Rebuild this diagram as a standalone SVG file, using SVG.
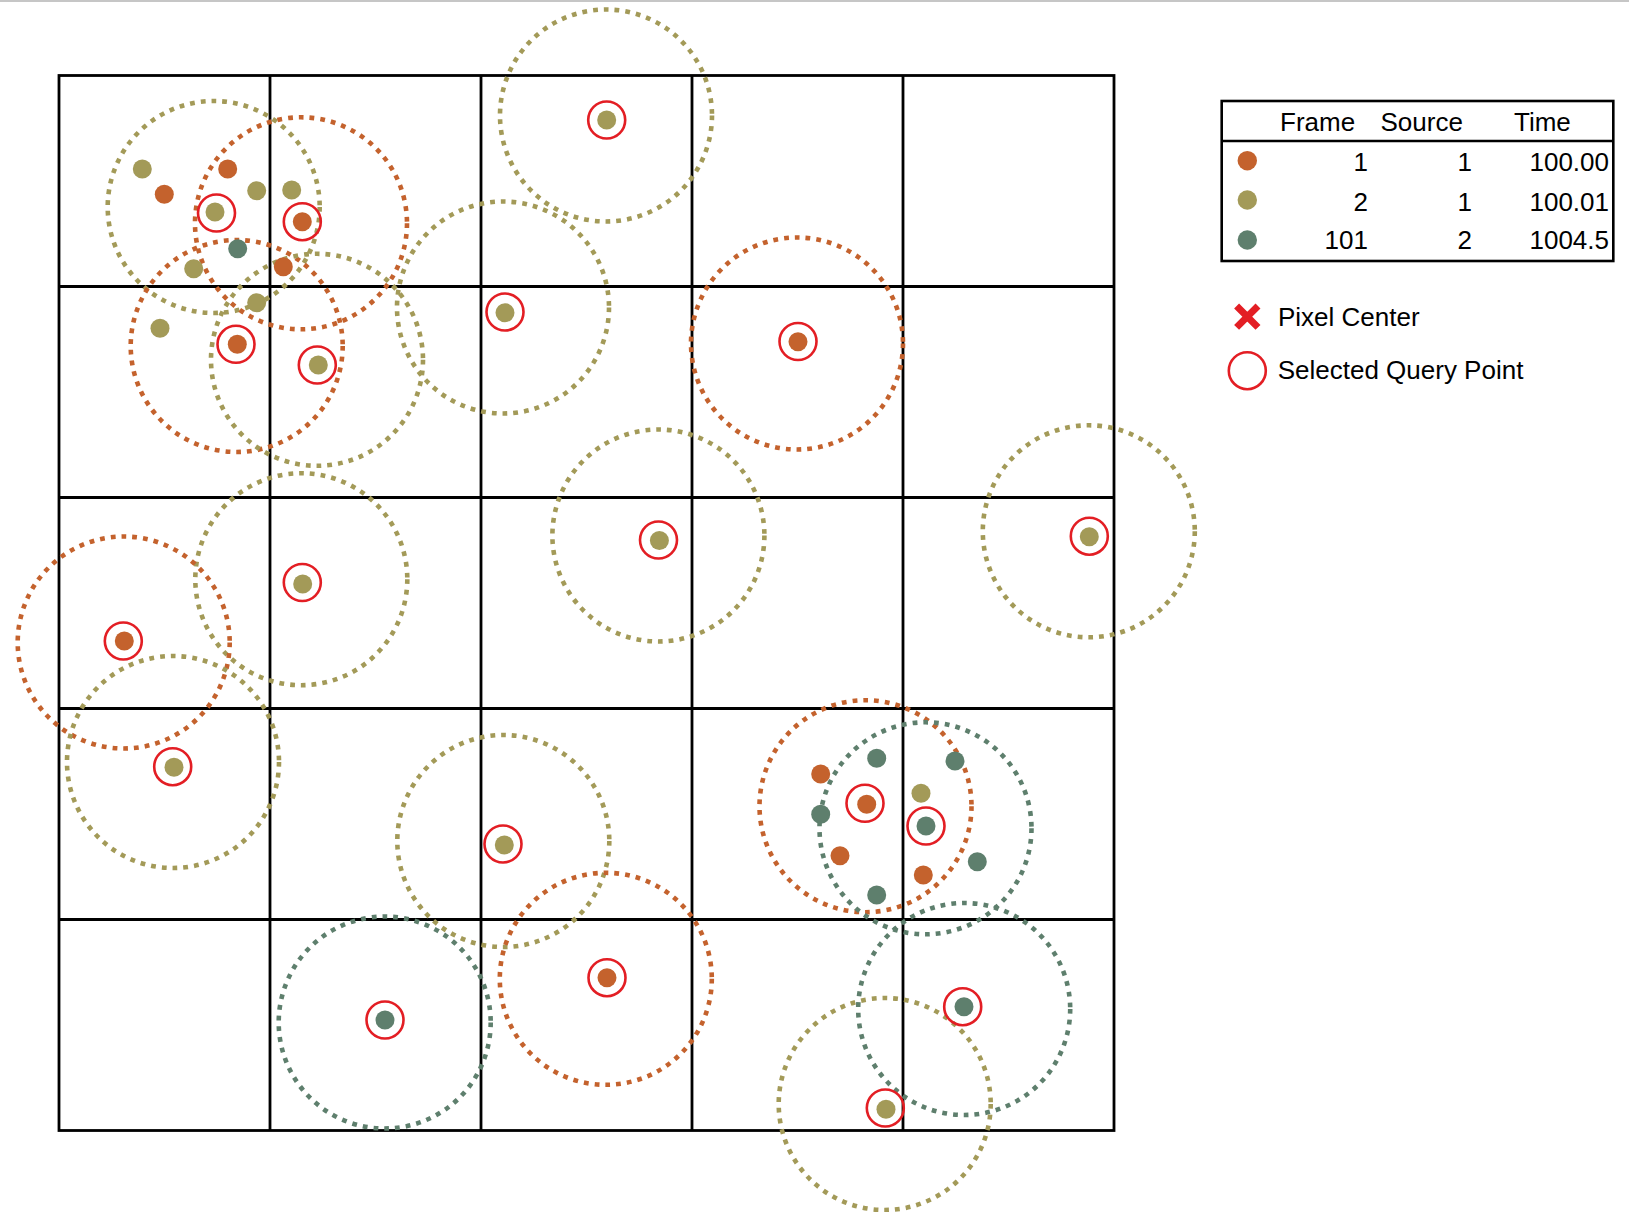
<svg xmlns="http://www.w3.org/2000/svg" width="1629" height="1212" viewBox="0 0 1629 1212">
<style>
text{font-family:"Liberation Sans",Arial,sans-serif;font-size:26px;fill:#000}
.grid{fill:none;stroke:#000;stroke-width:2.8}
.dc{fill:none;stroke-width:4.6;stroke-dasharray:4.8 6}
.ring{fill:none;stroke:#E31E24;stroke-width:2.6}
.o{fill:#C4622D}.g{fill:#A39A58}.t{fill:#5E7F6D}
.os{stroke:#C4622D}.gs{stroke:#A39A58}.ts{stroke:#5E7F6D}
.end{text-anchor:end}
</style>
<rect width="1629" height="1212" fill="#fff"/>
<line x1="0" y1="1" x2="1629" y2="1" stroke="#c6c6c6" stroke-width="2"/>
<g id="grid">
<rect class="grid" x="59" y="75.5" width="1055" height="1055"/>
<path class="grid" d="M270 75.5V1130.5M481 75.5V1130.5M692 75.5V1130.5M903 75.5V1130.5M59 286.5H1114M59 497.5H1114M59 708.5H1114M59 919.5H1114"/>
</g>
<g id="connectors">
<circle class="dc gs" cx="213.7" cy="207" r="106"/>
<circle class="dc os" cx="301" cy="223.3" r="106"/>
<circle class="dc os" cx="236.7" cy="346" r="106"/>
<circle class="dc gs" cx="317" cy="359.8" r="106"/>
<circle class="dc gs" cx="606" cy="115.5" r="106"/>
<circle class="dc gs" cx="503" cy="307.5" r="106"/>
<circle class="dc os" cx="797" cy="343.5" r="106"/>
<circle class="dc gs" cx="658.4" cy="535.5" r="106"/>
<circle class="dc gs" cx="1088.8" cy="531.3" r="106"/>
<circle class="dc gs" cx="301.3" cy="579.2" r="106"/>
<circle class="dc os" cx="123.7" cy="642.5" r="106"/>
<circle class="dc gs" cx="173" cy="762" r="106"/>
<circle class="dc gs" cx="503.3" cy="841" r="106"/>
<circle class="dc os" cx="605.8" cy="978.8" r="106"/>
<circle class="dc ts" cx="384.7" cy="1022.5" r="106"/>
<circle class="dc ts" cx="964.2" cy="1009" r="106"/>
<circle class="dc gs" cx="884.7" cy="1104" r="106"/>
<circle class="dc os" cx="865.5" cy="806.2" r="106"/>
<circle class="dc ts" cx="925.5" cy="828.3" r="106"/>
</g>
<g id="points">
<g id="p1"><circle class="g" cx="142.3" cy="169" r="9.5"/></g>
<g id="p2"><circle class="o" cx="227.7" cy="169" r="9.5"/></g>
<g id="p3"><circle class="o" cx="164.3" cy="194.3" r="9.5"/></g>
<g id="p4"><circle class="g" cx="256.7" cy="190.7" r="9.5"/></g>
<g id="p5"><circle class="g" cx="291.7" cy="190" r="9.5"/></g>
<g id="p6"><circle class="g" cx="215" cy="212" r="9.5"/><circle class="ring" cx="216.5" cy="213" r="18.5"/></g>
<g id="p7"><circle class="o" cx="302.3" cy="221.7" r="9.5"/><circle class="ring" cx="302.3" cy="221.7" r="18.5"/></g>
<g id="p8"><circle class="t" cx="237.7" cy="248.7" r="9.5"/></g>
<g id="p9"><circle class="g" cx="193.7" cy="268.7" r="9.5"/></g>
<g id="p10"><circle class="o" cx="283.3" cy="266.7" r="9.5"/></g>
<g id="p11"><circle class="g" cx="256.7" cy="302.7" r="9.5"/></g>
<g id="p12"><circle class="g" cx="160" cy="328.3" r="9.5"/></g>
<g id="p13"><circle class="o" cx="237.3" cy="344.3" r="9.5"/><circle class="ring" cx="236" cy="344.3" r="18.5"/></g>
<g id="p14"><circle class="g" cx="318.3" cy="365" r="9.5"/><circle class="ring" cx="317.3" cy="365" r="18.5"/></g>
<g id="p15"><circle class="g" cx="606.7" cy="120" r="9.5"/><circle class="ring" cx="606.7" cy="120" r="18.5"/></g>
<g id="p16"><circle class="g" cx="505" cy="312.7" r="9.5"/><circle class="ring" cx="505" cy="312" r="18.5"/></g>
<g id="p17"><circle class="o" cx="798" cy="341.7" r="9.5"/><circle class="ring" cx="798" cy="341.5" r="18.5"/></g>
<g id="p18"><circle class="g" cx="659.4" cy="540.5" r="9.5"/><circle class="ring" cx="658.5" cy="540" r="18.5"/></g>
<g id="p19"><circle class="g" cx="1089.3" cy="536.7" r="9.5"/><circle class="ring" cx="1089.3" cy="536.2" r="18.5"/></g>
<g id="p20"><circle class="g" cx="302.7" cy="584" r="9.5"/><circle class="ring" cx="302.3" cy="582.5" r="18.5"/></g>
<g id="p21"><circle class="o" cx="124.3" cy="641" r="9.5"/><circle class="ring" cx="123.3" cy="641" r="18.5"/></g>
<g id="p22"><circle class="g" cx="174" cy="767.3" r="9.5"/><circle class="ring" cx="172.7" cy="766.7" r="18.5"/></g>
<g id="p23"><circle class="g" cx="504.3" cy="845" r="9.5"/><circle class="ring" cx="503" cy="844" r="18.5"/></g>
<g id="p24"><circle class="o" cx="607" cy="977.7" r="9.5"/><circle class="ring" cx="607" cy="977.7" r="18.5"/></g>
<g id="p25"><circle class="t" cx="385" cy="1020" r="9.5"/><circle class="ring" cx="385" cy="1020" r="18.5"/></g>
<g id="p26"><circle class="t" cx="964" cy="1006.7" r="9.5"/><circle class="ring" cx="962.7" cy="1006.7" r="18.5"/></g>
<g id="p27"><circle class="g" cx="886" cy="1109.3" r="9.5"/><circle class="ring" cx="885.3" cy="1108" r="18.5"/></g>
<g id="p28"><circle class="t" cx="876.7" cy="758.3" r="9.5"/></g>
<g id="p29"><circle class="t" cx="955" cy="761" r="9.5"/></g>
<g id="p30"><circle class="o" cx="820.7" cy="774" r="9.5"/></g>
<g id="p31"><circle class="g" cx="921" cy="793.3" r="9.5"/></g>
<g id="p32"><circle class="t" cx="820.7" cy="814.3" r="9.5"/></g>
<g id="p33"><circle class="o" cx="840" cy="855.7" r="9.5"/></g>
<g id="p34"><circle class="t" cx="977.3" cy="861.7" r="9.5"/></g>
<g id="p35"><circle class="o" cx="923.3" cy="875" r="9.5"/></g>
<g id="p36"><circle class="t" cx="876.7" cy="895" r="9.5"/></g>
<g id="p37"><circle class="o" cx="866.7" cy="804.3" r="9.5"/><circle class="ring" cx="865" cy="803.3" r="18.5"/></g>
<g id="p38"><circle class="t" cx="926" cy="826" r="9.5"/><circle class="ring" cx="926" cy="826" r="18.5"/></g>
</g>
<g id="legend-table">
<rect x="1221.7" y="101" width="391.6" height="160" fill="none" stroke="#000" stroke-width="2.6"/>
<line x1="1221.7" y1="141" x2="1613.3" y2="141" stroke="#000" stroke-width="2.6"/>
<text x="1280" y="130.7">Frame</text>
<text x="1380.5" y="130.7">Source</text>
<text x="1514" y="130.7">Time</text>
<circle class="o" cx="1247.3" cy="160.7" r="9.7"/>
<circle class="g" cx="1247.3" cy="200" r="9.7"/>
<circle class="t" cx="1247.3" cy="240" r="9.7"/>
<text class="end" x="1368" y="171">1</text>
<text class="end" x="1472" y="171">1</text>
<text class="end" x="1609" y="171">100.00</text>
<text class="end" x="1368" y="210.7">2</text>
<text class="end" x="1472" y="210.7">1</text>
<text class="end" x="1609" y="210.7">100.01</text>
<text class="end" x="1368" y="249.3">101</text>
<text class="end" x="1472" y="249.3">2</text>
<text class="end" x="1609" y="249.3">1004.5</text>
</g>
<g id="legend-pixel-center">
<path d="M1236.6 306L1258 327.4M1258 306L1236.6 327.4" stroke="#E31E24" stroke-width="7"/>
<text x="1278" y="325.7">Pixel Center</text>
</g>
<g id="legend-query-point">
<circle class="ring" cx="1247.3" cy="370.7" r="18.5"/>
<text x="1277.7" y="379.3">Selected Query Point</text>
</g>
</svg>
